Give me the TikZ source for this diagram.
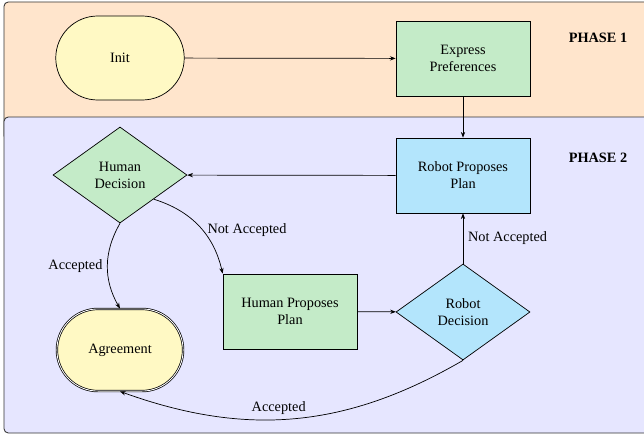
\documentclass[tikz,border=0pt]{standalone}
\usepackage{fontspec}
\setmainfont{Liberation Serif}
\usetikzlibrary{shapes.geometric,shapes.misc,arrows.meta}

\definecolor{phaseone}{HTML}{FFE5CC}
\definecolor{phasetwo}{HTML}{E6E6FF}
\definecolor{startcol}{HTML}{FFF9C4}
\definecolor{humancol}{HTML}{C4EBC8}
\definecolor{robotcol}{HTML}{B3E5FC}

\tikzset{
  phase/.style={draw=black!80, line width=0.6pt, rounded corners=3pt},
  phaselabel/.style={font=\bfseries},
  terminal/.style={rounded rectangle, draw, fill=startcol, minimum width=96.6pt, minimum height=58.8pt},
  process/.style={rectangle, draw, align=center, minimum width=93.8pt, minimum height=52.5pt},
  decision/.style={diamond, draw, align=center, inner sep=1pt, minimum width=93.8pt, minimum height=67.2pt}
}

\begin{document}
\begin{tikzpicture}[x=0.7pt, y=-0.7pt, line width=0.5pt, >={Stealth[length=4pt,width=3pt]}]
\clip (0,0) rectangle (644,439);
\useasboundingbox (0,0) rectangle (644,439);
% the two phases
\draw[phase, fill=phaseone] (4,2) rectangle (700,140);
\draw[phase, fill=phasetwo] (4,117) rectangle (700,433);
\node[phaselabel] (p1) at (598,38) {PHASE 1};
\node[phaselabel] (p2) at (598,158) {PHASE 2};

% steps
\node[terminal] (init) at (120,58) {Init};
\node[process, fill=humancol] (pref) at (463,58.5) {Express\\Preferences};
\node[process, fill=robotcol] (rplan) at (463,175.5) {Robot Proposes\\Plan};
\node[decision, fill=humancol] (hdec) at (120,175) {Human\\Decision};
\node[process, fill=humancol] (hplan) at (290,311.5) {Human Proposes\\Plan};
\node[decision, fill=robotcol] (rdec) at (463,312) {Robot\\Decision};
\node[terminal, double, minimum width=95pt, minimum height=57.5pt] (agree) at (120,350) {Agreement};

% transitions
\draw[->] (init) -- (pref);
\draw[->] (pref) -- (rplan);
\draw[->] (rplan) -- (hdec);
\draw[->] (hdec.south) to[bend right=30] node[left] {Accepted} (agree.north);
\draw[->] (hdec.south east) to[bend left=30] node[right, pos=0.55] {Not Accepted} (hplan.north west);
\draw[->] (hplan) -- (rdec);
\draw[->] (rdec) -- node[right] {Not Accepted} (rplan);
\draw[->] (rdec.south) to[bend left=25] node[above, pos=0.55] {Accepted} (agree.south);
\end{tikzpicture}
\end{document}
